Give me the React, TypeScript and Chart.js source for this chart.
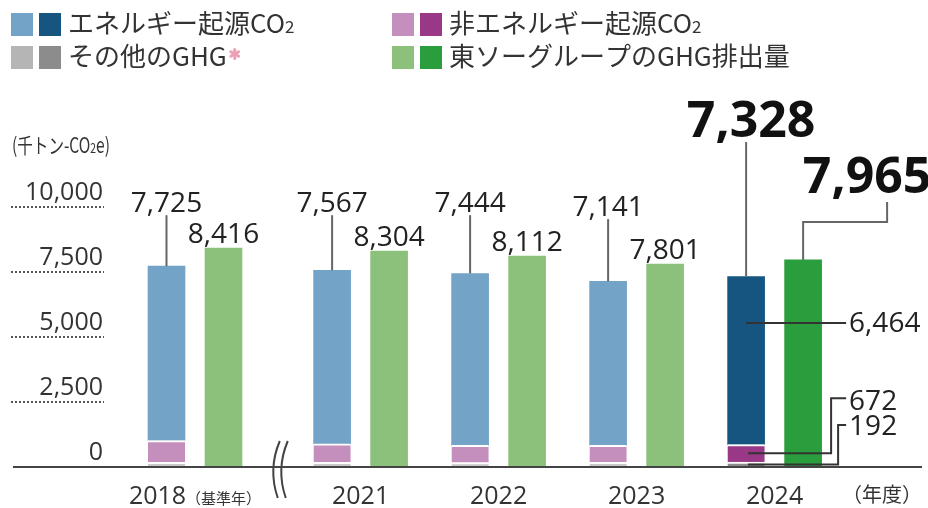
import { useEffect, useRef } from "react";
import { Chart, registerables } from "chart.js";

Chart.register(...registerables);

// ---- data ----
const years = ["2018", "2021", "2022", "2023", "2024"];
const energyCO2 = [6705, 6677, 6614, 6311, 6464];
const nonEnergyCO2 = [840, 710, 660, 650, 672];
const otherGHG = [180, 180, 170, 180, 192];
const groupGHG = [8416, 8304, 8112, 7801, 7965];
const yTicks = [0, 2500, 5000, 7500, 10000];
const legendLabels = ["エネルギー起源CO2", "非エネルギー起源CO2", "その他のGHG", "東ソーグループのGHG排出量"];

// axis slots (the break between 2018 and 2021 shortens that gap)
const xSlot = [0, 1.2, 2.2, 3.2, 4.2];

const COL = {
  energyL: "#73a3c6",
  energyD: "#175581",
  nonL: "#c48fbd",
  nonD: "#983886",
  othL: "#c9c9c9",
  othD: "#8c8c8c",
  grpL: "#8cc17b",
  grpD: "#2a9d3c",
  legOthL: "#b5b5b5",
};

const NUM = "'Open Sans', 'Noto Sans CJK JP', sans-serif";
const JP = "'Noto Sans CJK JP', 'Noto Sans', sans-serif";
const fmt = (v: number) => v.toLocaleString("en-US");

type Part = { t: string; font: string; color?: string; dy?: number };
function drawParts(
  ctx: CanvasRenderingContext2D,
  parts: Part[],
  x: number,
  y: number,
  align: "left" | "center" | "right" = "left",
  fitWidth?: number
) {
  let total = 0;
  parts.forEach((p) => {
    ctx.font = p.font;
    total += ctx.measureText(p.t).width;
  });
  const sx = fitWidth ? fitWidth / total : 1;
  const w = total * sx;
  let cx = align === "center" ? x - w / 2 : align === "right" ? x - w : x;
  ctx.save();
  ctx.translate(cx, y);
  ctx.scale(sx, 1);
  let ox = 0;
  parts.forEach((p) => {
    ctx.font = p.font;
    ctx.fillStyle = p.color || "#333";
    ctx.textAlign = "left";
    ctx.fillText(p.t, ox, p.dy || 0);
    ox += ctx.measureText(p.t).width;
  });
  ctx.restore();
  return w;
}

function withSub(label: string, size: number, subSize: number): Part[] {
  const idx = label.indexOf("CO2");
  if (idx < 0) return [{ t: label, font: `${size}px ${JP}` }];
  const parts: Part[] = [];
  parts.push({ t: label.slice(0, idx + 2), font: `${size}px ${JP}` });
  parts.push({ t: "2", font: `${subSize}px ${JP}` });
  const rest = label.slice(idx + 3);
  if (rest) parts.push({ t: rest, font: `${size}px ${JP}` });
  return parts;
}

function path(ctx: CanvasRenderingContext2D, pts: number[][]) {
  ctx.beginPath();
  ctx.moveTo(pts[0][0], pts[0][1]);
  for (let i = 1; i < pts.length; i++) ctx.lineTo(pts[i][0], pts[i][1]);
  ctx.stroke();
}

const overlay = {
  id: "overlay",
  afterDraw(chart: any) {
    const ctx: CanvasRenderingContext2D = chart.ctx;
    const ys = chart.scales.y;
    const xs = chart.scales.x;
    ctx.save();
    ctx.textBaseline = "alphabetic";

    // ---- legend ----
    const legSw = [
      [COL.energyL, COL.energyD],
      [COL.nonL, COL.nonD],
      [COL.legOthL, COL.othD],
      [COL.grpL, COL.grpD],
    ];
    const legPos = [
      [11, 13],
      [392, 13],
      [11, 46],
      [392, 46],
    ];
    legendLabels.forEach((lab, i) => {
      const [lx, ly] = legPos[i];
      ctx.fillStyle = legSw[i][0];
      ctx.fillRect(lx, ly, 22, 23);
      ctx.fillStyle = legSw[i][1];
      ctx.fillRect(lx + 28, ly, 22, 23);
      const w = drawParts(ctx, withSub(lab, 26, 17), lx + 57, ly + 20);
      if (i === 2) {
        const cx = lx + 57 + w + 8;
        const cy = ly + 8;
        ctx.strokeStyle = "#ee9fb5";
        ctx.lineWidth = 3;
        ctx.lineCap = "round";
        for (let k = 0; k < 3; k++) {
          const a = (Math.PI / 3) * k + Math.PI / 2;
          path(ctx, [
            [cx - Math.cos(a) * 4.5, cy - Math.sin(a) * 4.5],
            [cx + Math.cos(a) * 4.5, cy + Math.sin(a) * 4.5],
          ]);
        }
        ctx.lineCap = "butt";
      }
    });

    // ---- unit label ----
    drawParts(
      ctx,
      [
        { t: "(千トン-CO", font: `21px ${JP}` },
        { t: "2", font: `14px ${JP}` },
        { t: "e)", font: `21px ${JP}` },
      ],
      12,
      153,
      "left",
      98
    );

    // ---- y tick labels with short dotted rules ----
    yTicks.forEach((v) => {
      const py = ys.getPixelForValue(v);
      ctx.font = `25px ${NUM}`;
      ctx.fillStyle = "#333";
      ctx.textAlign = "right";
      ctx.fillText(fmt(v), 103, py - 7);
      if (v > 0) {
        ctx.save();
        ctx.strokeStyle = "#555";
        ctx.lineWidth = 2;
        ctx.setLineDash([2, 2]);
        path(ctx, [
          [11, py],
          [104, py],
        ]);
        ctx.restore();
      }
    });

    // ---- baseline axis ----
    const y0 = ys.getPixelForValue(0);
    ctx.strokeStyle = "#444";
    ctx.lineWidth = 2;
    path(ctx, [
      [13, y0],
      [922, y0],
    ]);

    // ---- axis break marks ----
    const bx = (xs.getPixelForValue(xSlot[0]) + xs.getPixelForValue(xSlot[1])) / 2 + 3;
    ctx.strokeStyle = "#444";
    ctx.lineWidth = 2;
    [-4, 4].forEach((off) => {
      ctx.beginPath();
      ctx.moveTo(bx + off + 3, y0 - 26);
      ctx.quadraticCurveTo(bx + off - 9, y0 + 2, bx + off + 1, y0 + 31);
      ctx.stroke();
    });

    // ---- x labels ----
    years.forEach((yr, i) => {
      const px = xs.getPixelForValue(xSlot[i]);
      const parts: Part[] = [{ t: yr, font: `25px ${NUM}` }];
      if (i === 0) parts.push({ t: "（基準年）", font: `15px ${JP}` });
      drawParts(ctx, parts, px, 504, "center");
    });
    drawParts(ctx, [{ t: "（年度）", font: `20px ${JP}` }], 842, 502);

    // ---- value labels ----
    const eMeta = chart.getDatasetMeta(2);
    const nMeta = chart.getDatasetMeta(1);
    const oMeta = chart.getDatasetMeta(0);
    const gMeta = chart.getDatasetMeta(3);
    const blueLevel = [9800, 9800, 9800, 9650];
    ctx.lineWidth = 2;
    for (let i = 0; i < 4; i++) {
      const el = eMeta.data[i];
      const total = energyCO2[i] + nonEnergyCO2[i] + otherGHG[i];
      const base = ys.getPixelForValue(blueLevel[i]);
      ctx.font = `28px ${NUM}`;
      ctx.fillStyle = "#222";
      ctx.textAlign = "center";
      ctx.fillText(fmt(total), el.x, base);
      ctx.strokeStyle = "#666";
      path(ctx, [
        [el.x, base + 3],
        [el.x, el.y],
      ]);
      const g = gMeta.data[i];
      ctx.fillText(fmt(groupGHG[i]), g.x, g.y - 5);
    }

    // 2024 highlighted
    const e4 = eMeta.data[4];
    const g4 = gMeta.data[4];
    const n4 = nMeta.data[4];
    const o4 = oMeta.data[4];
    const total4 = energyCO2[4] + nonEnergyCO2[4] + otherGHG[4];
    ctx.fillStyle = "#111";
    ctx.font = `bold 50px ${NUM}`;
    ctx.textAlign = "center";
    const t4 = ys.getPixelForValue(12690);
    ctx.fillText(fmt(total4), e4.x + 5, t4);
    ctx.strokeStyle = "#666";
    path(ctx, [
      [e4.x, t4 + 5],
      [e4.x, e4.y],
    ]);
    const tg = ys.getPixelForValue(10540);
    ctx.fillText(fmt(groupGHG[4]), g4.x + 64, tg);
    const elbowY = ys.getPixelForValue(9420);
    path(ctx, [
      [g4.x + 84, tg + 9],
      [g4.x + 84, elbowY],
      [g4.x, elbowY],
      [g4.x, g4.y],
    ]);

    // breakdown callouts
    const tx = g4.x + 46;
    ctx.strokeStyle = "#333";
    ctx.fillStyle = "#222";
    ctx.font = `28px ${NUM}`;
    ctx.textAlign = "left";
    const ey = ys.getPixelForValue(5540);
    path(ctx, [
      [e4.x, ey],
      [tx - 3, ey],
    ]);
    ctx.fillText(fmt(energyCO2[4]), tx, ey + 9);

    const nMid = (n4.y + n4.base) / 2;
    const nLab = ys.getPixelForValue(2180);
    path(ctx, [
      [e4.x + 2, nMid],
      [tx - 18, nMid],
      [tx - 18, nLab - 12],
      [tx - 3, nLab - 12],
    ]);
    ctx.fillText(fmt(nonEnergyCO2[4]), tx, nLab);

    const oMid = (o4.y + o4.base) / 2;
    const oLab = ys.getPixelForValue(1230);
    path(ctx, [
      [e4.x + 2, oMid],
      [tx - 11, oMid],
      [tx - 11, oLab - 10],
      [tx - 3, oLab - 10],
    ]);
    ctx.fillText(fmt(otherGHG[4]), tx, oLab);

    ctx.restore();
  },
};

export default function App() {
  const ref = useRef<HTMLCanvasElement | null>(null);
  useEffect(() => {
    document.body.style.margin = "0";
    const canvas = ref.current;
    if (!canvas) return;
    const pick = (light: string, dark: string) => years.map((_, i) => (i === years.length - 1 ? dark : light));
    const pts = (arr: number[]) => arr.map((v, i) => ({ x: xSlot[i], y: v }));
    const common = { barThickness: 57, maxBarThickness: 37 };
    const segBorder = { top: 2, bottom: 0, left: 0, right: 0 };
    const chart = new Chart(canvas, {
      type: "bar",
      data: {
        datasets: [
          {
            label: legendLabels[2],
            data: pts(otherGHG),
            stack: "tosoh",
            backgroundColor: pick(COL.othL, COL.othD),
            borderColor: "#ffffff",
            borderWidth: segBorder,
            borderSkipped: false,
            ...common,
          },
          {
            label: legendLabels[1],
            data: pts(nonEnergyCO2),
            stack: "tosoh",
            backgroundColor: pick(COL.nonL, COL.nonD),
            borderColor: "#ffffff",
            borderWidth: segBorder,
            borderSkipped: false,
            ...common,
          },
          {
            label: legendLabels[0],
            data: pts(energyCO2),
            stack: "tosoh",
            backgroundColor: pick(COL.energyL, COL.energyD),
            borderWidth: 0,
            ...common,
          },
          {
            label: legendLabels[3],
            data: pts(groupGHG),
            stack: "group",
            backgroundColor: pick(COL.grpL, COL.grpD),
            borderWidth: 0,
            ...common,
          },
        ],
      } as any,
      options: {
        animation: false,
        responsive: false,
        layout: { padding: { left: 13, right: 6, top: 207, bottom: 41 } },
        plugins: { legend: { display: false }, tooltip: { enabled: false } },
        scales: {
          x: { type: "linear", display: false, offset: false, min: -1.3188, max: 5.268, stacked: true },
          y: { display: false, min: 0, max: 10000, stacked: true },
        },
      } as any,
      plugins: [overlay],
    });
    return () => chart.destroy();
  }, []);
  return (
    <div style={{ width: 928, height: 508, background: "#fff" }}>
      <canvas ref={ref} width={928} height={508} />
    </div>
  );
}
